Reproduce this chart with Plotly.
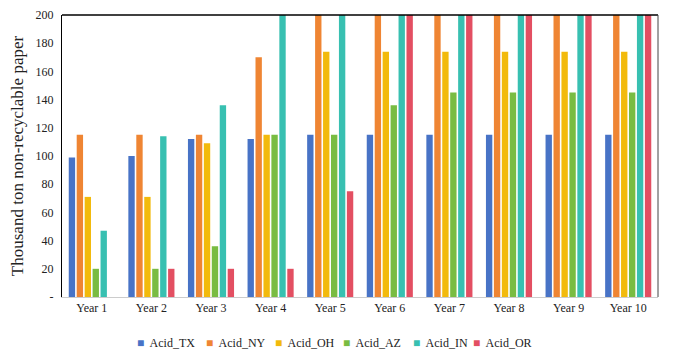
import plotly.graph_objects as go

years = ["Year 1", "Year 2", "Year 3", "Year 4", "Year 5",
         "Year 6", "Year 7", "Year 8", "Year 9", "Year 10"]

# values above 200 run off the top of the axis in the original
acid_tx = [99, 100, 112, 112, 115, 115, 115, 115, 115, 115]
acid_ny = [115, 115, 115, 170, 230, 230, 230, 230, 230, 230]
acid_oh = [71, 71, 109, 115, 174, 174, 174, 174, 174, 174]
acid_az = [20, 20, 36, 115, 115, 136, 145, 145, 145, 145]
acid_in = [47, 114, 136, 230, 230, 230, 230, 230, 230, 230]
acid_or = [0, 20, 20, 20, 75, 230, 230, 230, 230, 230]

tick_vals = [0, 20, 40, 60, 80, 100, 120, 140, 160, 180, 200]
tick_text = ["-", "20", "40", "60", "80", "100", "120", "140", "160", "180", "200"]

series = [
    ("Acid_TX", acid_tx, "#4873C6"),
    ("Acid_NY", acid_ny, "#EF8533"),
    ("Acid_OH", acid_oh, "#F2BA0C"),
    ("Acid_AZ", acid_az, "#79BC42"),
    ("Acid_IN", acid_in, "#38C0B1"),
    ("Acid_OR", acid_or, "#E34F62"),
]

serif = "Liberation Serif"

fig = go.Figure()
for name, vals, color in series:
    fig.add_trace(go.Bar(x=years, y=vals, name=name, marker_color=color,
                         marker_line_width=0, showlegend=False))

# compact legend like the original (small squares, tight spacing)
legend_x = [135, 204, 273, 341, 411, 471]
for (name, vals, color), px in zip(series, legend_x):
    fig.add_annotation(
        xref="paper", yref="paper", x=(px - 62) / 596, y=-0.163,
        xanchor="left", yanchor="middle", showarrow=False,
        text=f"<span style='color:{color}'>■</span>&nbsp; {name}",
        font=dict(family=serif, size=12, color="#222222"),
    )

# page body adds 8px margin, so the figure is a bit smaller than the window
fig.update_layout(
    width=667, height=356,
    barmode="group", bargap=0.2, bargroupgap=0.2,
    plot_bgcolor="white", paper_bgcolor="white",
    font=dict(family=serif, size=12, color="#222222"),
    margin=dict(l=54, r=17, t=7, b=67, autoexpand=False),
)
fig.update_yaxes(
    range=[0, 200], tickvals=tick_vals, ticktext=tick_text,
    showgrid=False, showline=True, linecolor="black", linewidth=1,
    ticks="", ticklabelstandoff=5,
    title=dict(text="Thousand ton non-recyclable paper",
               font=dict(family=serif, size=17), standoff=12),
)
fig.update_xaxes(showgrid=False, showline=True, linecolor="#cccccc", ticks="",
                 tickfont=dict(family=serif, size=12))

# box lines on top and right
fig.add_shape(type="line", xref="paper", yref="paper", x0=0, x1=1, y0=1, y1=1,
              line=dict(color="black", width=1.5))
fig.add_shape(type="line", xref="paper", yref="paper", x0=1, x1=1, y0=0, y1=1,
              line=dict(color="#444444", width=1))

fig.write_html("out.html")
